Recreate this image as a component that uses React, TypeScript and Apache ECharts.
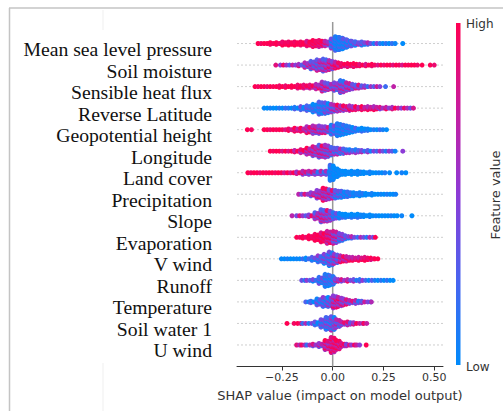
import React, { useEffect, useRef } from 'react';
import * as echarts from 'echarts';

const features = [
  'Mean sea level pressure', 'Soil moisture', 'Sensible heat flux', 'Reverse Latitude',
  'Geopotential height', 'Longitude', 'Land cover', 'Precipitation', 'Slope',
  'Evaporation', 'V wind', 'Runoff', 'Temperature', 'Soil water 1', 'U wind',
];
const xTicks = [-0.25, 0, 0.25, 0.5];
const colorStops = ['#008bfb', '#4a63ef', '#8c3bd6', '#c81c9e', '#ff0052'];

// each bin: [SHAP value, half thickness of the swarm (px), mean feature value 0..1]
const meanSeaLevelPressure = [[-0.36,1.5,1],[-0.33,2.5,1],[-0.30,3,1],[-0.27,3,1],[-0.24,3.5,1],[-0.21,3.5,1],[-0.18,4,1],[-0.15,4,1],[-0.12,4.5,0.95],[-0.09,5,0.95],[-0.06,5.5,0.9],[-0.03,4.5,0.7],[0.0,6.5,0.3],[0.02,9,0.1],[0.04,8.5,0.1],[0.06,6.5,0.15],[0.08,5,0.2],[0.10,4.5,0.25],[0.12,4,0.3],[0.15,3.5,0.3],[0.18,3,0.35],[0.21,2.5,0.3],[0.24,2,0.2],[0.27,2,0.1],[0.30,1,0.05],[0.345,0,0.05]];
const soilMoisture = [[-0.28,0,0.8],[-0.25,1,0.7],[-0.22,1.5,0.6],[-0.19,2,0.6],[-0.16,3,0.55],[-0.13,4.5,0.55],[-0.10,6,0.5],[-0.07,7.5,0.5],[-0.04,8.5,0.55],[-0.01,7,0.7],[0.02,5,0.85],[0.05,4,0.9],[0.08,3.5,0.95],[0.11,3.5,0.95],[0.14,3,0.95],[0.17,3,0.95],[0.20,3,0.95],[0.23,2.5,0.95],[0.26,2.5,0.95],[0.29,2.5,0.95],[0.32,2,0.95],[0.35,2,0.95],[0.38,1.5,1],[0.41,1,1],[0.44,0,1],[0.48,0,1],[0.50,0,1]];
const sensibleHeatFlux = [[-0.375,1,1],[-0.345,2,1],[-0.315,2.5,1],[-0.285,2.5,1],[-0.255,3,1],[-0.225,3,1],[-0.195,3,1],[-0.165,3.5,0.95],[-0.135,3.5,0.9],[-0.105,4,0.85],[-0.075,4.5,0.8],[-0.045,6.5,0.65],[-0.015,5,0.5],[0.015,6,0.5],[0.045,8,0.5],[0.075,6,0.55],[0.105,4.5,0.55],[0.135,3.5,0.5],[0.165,3,0.5],[0.195,2,0.45],[0.225,1,0.45],[0.26,0,0.45],[0.30,0,0.5]];
const reverseLatitude = [[-0.33,1,0],[-0.30,2,0],[-0.27,2,0.05],[-0.24,2.5,0.05],[-0.21,2.5,0.1],[-0.18,3,0.15],[-0.15,3.5,0.2],[-0.12,4.5,0.2],[-0.09,6,0.15],[-0.06,8,0.15],[-0.03,7.5,0.25],[0.0,6,0.45],[0.03,5,0.7],[0.06,4.5,0.75],[0.09,4.5,0.8],[0.12,4,0.85],[0.15,4,0.85],[0.18,3.5,0.85],[0.21,3.5,0.8],[0.24,3,0.75],[0.27,3,0.75],[0.30,3,0.7],[0.33,2.5,0.7],[0.36,2,0.7],[0.39,1.5,0.7]];
const geopotentialHeight = [[-0.42,0,1],[-0.40,0,1],[-0.33,1,1],[-0.30,2,1],[-0.27,2,1],[-0.24,2.5,0.95],[-0.21,3,0.95],[-0.18,3.5,0.9],[-0.15,4,0.85],[-0.12,5,0.75],[-0.09,6,0.65],[-0.06,6,0.6],[-0.03,5,0.5],[0.0,7,0.2],[0.03,8.5,0.1],[0.06,7,0.1],[0.09,5,0.1],[0.12,4,0.1],[0.15,3.5,0.1],[0.18,3,0.05],[0.21,2.5,0.05],[0.24,1.5,0.05],[0.265,0.5,0]];
const longitude = [[-0.30,1,1],[-0.27,2,1],[-0.24,2.5,0.95],[-0.21,2.5,0.9],[-0.18,3,0.85],[-0.15,3.5,0.8],[-0.12,5,0.7],[-0.09,7,0.65],[-0.06,8.5,0.6],[-0.03,8.5,0.55],[0.0,6,0.45],[0.03,5,0.4],[0.06,4.5,0.4],[0.09,4,0.4],[0.12,3.5,0.35],[0.15,3,0.35],[0.18,3,0.35],[0.21,2.5,0.35],[0.24,2,0.35],[0.27,1.5,0.35],[0.30,1,0.4],[0.345,0,0.4]];
const landCover = [[-0.41,1,1],[-0.38,2,1],[-0.35,2,1],[-0.32,2.5,1],[-0.29,2.5,1],[-0.26,2.5,1],[-0.23,2.5,0.95],[-0.20,2.5,0.9],[-0.17,3,0.8],[-0.14,3.5,0.6],[-0.11,4,0.55],[-0.08,4,0.5],[-0.05,3.5,0.45],[-0.025,3.5,0.3],[-0.005,10,0.05],[0.015,7,0],[0.04,4.5,0],[0.07,4,0],[0.10,3.5,0],[0.13,3.5,0],[0.16,3,0],[0.19,3,0],[0.22,2,0],[0.25,1,0],[0.28,0,0],[0.315,0.5,0],[0.34,0.5,0],[0.36,0.5,0]];
const precipitation = [[-0.16,1,0.6],[-0.13,2.5,0.6],[-0.10,3.5,0.6],[-0.07,6,0.65],[-0.04,8,0.7],[-0.01,7,0.6],[0.02,6,0.25],[0.05,5,0.15],[0.08,4.5,0.1],[0.11,4,0.05],[0.14,3.5,0.05],[0.17,3,0],[0.20,3,0],[0.23,2.5,0],[0.26,2,0],[0.29,1.5,0],[0.31,0.5,0]];
const slope = [[-0.20,0,0.6],[-0.17,1.5,0.6],[-0.14,2,0.6],[-0.11,3,0.6],[-0.08,5,0.6],[-0.05,8,0.6],[-0.02,7.5,0.55],[0.01,5,0.2],[0.04,4.5,0.1],[0.07,4,0.05],[0.10,3.5,0.05],[0.13,3.5,0.05],[0.16,3,0],[0.19,3,0],[0.22,2.5,0],[0.25,2,0],[0.28,1.5,0],[0.31,1,0],[0.34,0.5,0],[0.39,0.5,0]];
const evaporation = [[-0.17,1.5,1],[-0.14,3,1],[-0.11,4,1],[-0.08,5.5,1],[-0.05,7,0.95],[-0.02,8.5,0.85],[0.01,8,0.55],[0.04,6,0.4],[0.07,4,0.35],[0.10,3,0.4],[0.13,2.5,0.45],[0.16,2,0.5],[0.19,1,0.6],[0.21,0,0.9]];
const vWind = [[-0.245,1.5,0],[-0.215,2.5,0],[-0.185,2.5,0],[-0.155,2.5,0.05],[-0.125,3,0.1],[-0.095,3.5,0.2],[-0.065,5,0.25],[-0.035,7,0.3],[-0.01,9,0.3],[0.015,7,0.5],[0.045,5,0.75],[0.075,4.5,0.85],[0.105,4,0.9],[0.135,4,0.9],[0.165,3.5,0.95],[0.195,3,0.95],[0.215,2,1]];
const runoff = [[-0.145,1,0.3],[-0.12,2.5,0.3],[-0.09,3,0.3],[-0.06,5,0.2],[-0.03,8,0.15],[-0.005,7,0.15],[0.02,4,0.55],[0.05,3,0.65],[0.08,3,0.6],[0.11,3,0.4],[0.14,3,0.25],[0.17,2.5,0.2],[0.20,2.5,0.15],[0.23,2.5,0.1],[0.26,2,0.05],[0.29,1,0]];
const temperature = [[-0.125,1.5,0.2],[-0.10,3,0.2],[-0.07,5,0.25],[-0.04,7,0.25],[-0.015,7,0.35],[0.01,8,0.65],[0.035,7,0.7],[0.06,5,0.6],[0.09,4,0.55],[0.12,3.5,0.5],[0.15,3,0.5],[0.18,2,0.5],[0.19,0.5,0.5]];
const soilWater1 = [[-0.225,0,1],[-0.19,0,1],[-0.165,1.5,0.9],[-0.14,2,0.5],[-0.11,2.5,0.2],[-0.08,4,0.2],[-0.05,6,0.25],[-0.025,8.5,0.3],[0.0,9,0.35],[0.025,6,0.45],[0.05,4,0.55],[0.08,3.5,0.65],[0.11,3,0.7],[0.14,2,0.75],[0.16,1,0.8]];
const uWind = [[-0.17,1,0.8],[-0.145,2.5,0.7],[-0.12,2.5,0.5],[-0.09,3,0.5],[-0.06,4,0.6],[-0.03,6.5,0.75],[0.0,9.5,0.85],[0.025,7,0.85],[0.05,4,0.8],[0.075,3,0.75],[0.10,2.5,0.7],[0.125,1.5,0.75],[0.165,0,1]];

const featureBins = [
  meanSeaLevelPressure, soilMoisture, sensibleHeatFlux, reverseLatitude, geopotentialHeight,
  longitude, landCover, precipitation, slope, evaporation, vWind, runoff, temperature, soilWater1, uWind,
];

const X_MIN = -0.471;
const X_MAX = 0.543;
const GRID = { left: 237, right: 60, top: 22, bottom: 44.5 };
const ROW_PX = (411 - GRID.top - GRID.bottom) / 16;

function buildSwarm() {
  const pts: number[][] = [];
  const nRows = features.length;
  featureBins.forEach((bins, k) => {
    const yBase = nRows - 1 - k;
    let idx = 0;
    bins.forEach(([x, h, c]) => {
      const spread = Math.max(0, h - 1.8);
      const n = Math.floor((2 * spread) / 1.5) + 1;
      const cols = h < 1 ? 1 : 2;
      for (let col = 0; col < cols; col++) {
        const dx = cols === 1 ? 0 : col === 0 ? -0.0075 : 0.0075;
        const nn = col === 1 && n > 1 ? n - 1 : n;
        for (let j = 0; j < nn; j++) {
          const off = ((j - (nn - 1) / 2) * 1.5) / ROW_PX;
          idx++;
          const t = (idx * 0.618034) % 1;
          const s = 0.2 + 2.2 * c * (1 - c);
          const v = Math.min(1, Math.max(0, c + (t - 0.5) * s));
          pts.push([x + dx, yBase + off, v]);
        }
      }
    });
  });
  return pts;
}

export default function App() {
  const ref = useRef<HTMLDivElement>(null);
  useEffect(() => {
    if (!ref.current) return;
    const chart = echarts.init(ref.current, undefined, { renderer: 'svg' });
    const nRows = features.length;
    const points = buildSwarm();
    const fmt = (v: number) => (v < 0 ? '\u2212' : '') + Math.abs(v).toFixed(2);
    chart.setOption({
      animation: false,
      backgroundColor: '#ffffff',
      grid: GRID,
      xAxis: {
        type: 'value',
        min: X_MIN,
        max: X_MAX,
        axisLine: { show: true, onZero: false, lineStyle: { color: '#333', width: 1 } },
        axisTick: { show: true, customValues: xTicks, length: 4, lineStyle: { color: '#333' } },
        axisLabel: {
          customValues: xTicks, formatter: fmt, color: '#333',
          fontFamily: 'DejaVu Sans', fontSize: 11, margin: 5,
        },
        splitLine: { show: false },
        name: 'SHAP value (impact on model output)',
        nameLocation: 'middle',
        nameGap: 22,
        nameTextStyle: { fontFamily: 'DejaVu Sans', fontSize: 13, color: '#333' },
      },
      yAxis: {
        type: 'value',
        min: -1,
        max: nRows,
        interval: 1,
        axisLine: { show: false, onZero: false },
        axisTick: { show: false },
        splitLine: { show: false },
        axisLabel: {
          formatter: (v: number) => {
            const k = nRows - 1 - Math.round(v);
            const name = features[k];
            return name ? '\n' + name : '';
          },
          color: '#111',
          fontFamily: 'Liberation Serif',
          fontSize: 19.7,
          lineHeight: 11,
          margin: 25,
        },
      },
      visualMap: {
        show: false,
        type: 'continuous',
        dimension: 2,
        min: 0,
        max: 1,
        seriesIndex: 2,
        inRange: { color: colorStops },
      },
      series: [
        {
          type: 'custom',
          z: 1,
          silent: true,
          data: features.map((_, k) => [0, nRows - 1 - k]),
          renderItem: (params: any, api: any) => {
            const y = api.value(1);
            const p1 = api.coord([X_MIN, y]);
            const p2 = api.coord([X_MAX, y]);
            return {
              type: 'line',
              shape: { x1: p1[0], y1: p1[1], x2: p2[0], y2: p2[1] },
              style: { stroke: '#cfcfcf', lineWidth: 1, lineDash: [2, 2] },
            };
          },
        },
        {
          type: 'custom',
          z: 1,
          silent: true,
          data: [[0, 0]],
          renderItem: (params: any, api: any) => {
            const x = api.value(0);
            const p1 = api.coord([x, -1]);
            const p2 = api.coord([x, nRows]);
            return {
              type: 'line',
              shape: { x1: p1[0], y1: p1[1], x2: p2[0], y2: p2[1] },
              style: { stroke: '#999999', lineWidth: 1.5 },
            };
          },
        },
        {
          type: 'scatter',
          z: 2,
          silent: true,
          symbol: 'circle',
          symbolSize: 5,
          data: points,
          itemStyle: { opacity: 1 },
        },
      ],
      graphic: [
        { type: 'line', shape: { x1: 9.5, y1: 8, x2: 9.5, y2: 411 }, style: { stroke: '#c4c4c4', lineWidth: 1.5 } },
        { type: 'line', shape: { x1: 9, y1: 8, x2: 503, y2: 8 }, style: { stroke: '#c4c4c4', lineWidth: 1.5 } },
        { type: 'line', shape: { x1: 103, y1: 10, x2: 103, y2: 30 }, style: { stroke: '#efefef', lineWidth: 1 } },
        { type: 'line', shape: { x1: 103, y1: 363, x2: 103, y2: 411 }, style: { stroke: '#efefef', lineWidth: 1 } },
        {
          type: 'rect',
          shape: { x: 456, y: 23, width: 4.5, height: 342 },
          style: {
            fill: new echarts.graphic.LinearGradient(0, 0, 0, 1,
              colorStops.slice().reverse().map((c, i, a) => ({ offset: i / (a.length - 1), color: c }))),
          },
        },
        { type: 'text', x: 466, y: 24, style: { text: 'High', fill: '#333', font: '12px "DejaVu Sans"', align: 'left', verticalAlign: 'middle' } },
        { type: 'text', x: 466, y: 367, style: { text: 'Low', fill: '#333', font: '12px "DejaVu Sans"', align: 'left', verticalAlign: 'middle' } },
        {
          type: 'text', x: 495, y: 195, rotation: Math.PI / 2,
          style: { text: 'Feature value', fill: '#333', font: '13px "DejaVu Sans"', align: 'center', verticalAlign: 'middle' },
        },
      ],
    });
    return () => chart.dispose();
  }, []);
  return <div ref={ref} style={{ position: 'fixed', left: 0, top: 0, width: 503, height: 411 }} />;
}
